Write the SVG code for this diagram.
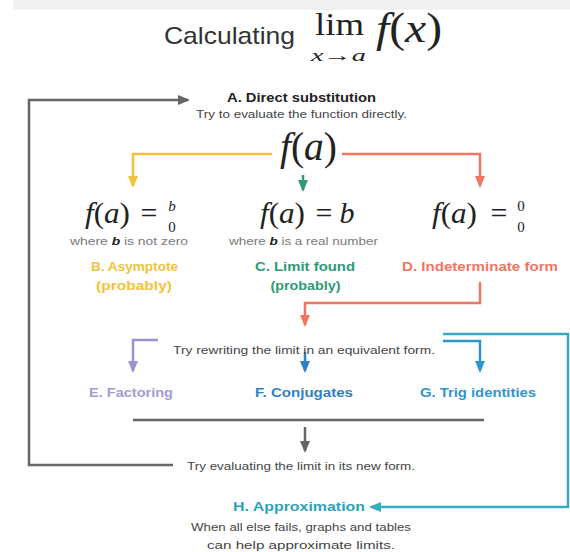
<svg xmlns="http://www.w3.org/2000/svg" width="570" height="552" viewBox="0 0 570 552">
<style>
.sans{font-family:"Liberation Sans","Noto Sans",Arial,sans-serif}
.math{font-family:"Liberation Serif","DejaVu Serif",serif;fill:#222}
.it{font-style:italic}
.lbl{font-family:"Liberation Sans","Noto Sans",Arial,sans-serif;font-weight:bold;font-size:13px;text-anchor:middle}
.note{font-family:"Liberation Sans","Noto Sans",Arial,sans-serif;font-size:10.5px;fill:#444;text-anchor:middle}
.small{font-family:"Liberation Sans","Noto Sans",Arial,sans-serif;font-size:10px;fill:#7a7a7a;text-anchor:middle}
.ln{fill:none;stroke-width:2.5;stroke-linejoin:miter}
</style>
<defs>
<marker id="mGray" viewBox="0 0 12 10" markerWidth="14" markerHeight="10" refX="10" refY="5" orient="auto" markerUnits="userSpaceOnUse"><path d="M0,0 L12,5 L0,10 z" fill="#666"/></marker>
<marker id="mYel" viewBox="0 0 12 10" markerWidth="14" markerHeight="10" refX="10" refY="5" orient="auto" markerUnits="userSpaceOnUse"><path d="M0,0 L12,5 L0,10 z" fill="#f2c23c"/></marker>
<marker id="mGrn" viewBox="0 0 12 10" markerWidth="14" markerHeight="10" refX="10" refY="5" orient="auto" markerUnits="userSpaceOnUse"><path d="M0,0 L12,5 L0,10 z" fill="#2e9a77"/></marker>
<marker id="mRed" viewBox="0 0 12 10" markerWidth="14" markerHeight="10" refX="10" refY="5" orient="auto" markerUnits="userSpaceOnUse"><path d="M0,0 L12,5 L0,10 z" fill="#f07563"/></marker>
<marker id="mPur" viewBox="0 0 12 10" markerWidth="14" markerHeight="10" refX="10" refY="5" orient="auto" markerUnits="userSpaceOnUse"><path d="M0,0 L12,5 L0,10 z" fill="#9d93cf"/></marker>
<marker id="mBlu" viewBox="0 0 12 10" markerWidth="14" markerHeight="10" refX="10" refY="5" orient="auto" markerUnits="userSpaceOnUse"><path d="M0,0 L12,5 L0,10 z" fill="#2f7fc4"/></marker>
<marker id="mBlu2" viewBox="0 0 12 10" markerWidth="14" markerHeight="10" refX="10" refY="5" orient="auto" markerUnits="userSpaceOnUse"><path d="M0,0 L12,5 L0,10 z" fill="#2f95cf"/></marker>
<marker id="mTeal" viewBox="0 0 12 10" markerWidth="14" markerHeight="10" refX="10" refY="5" orient="auto" markerUnits="userSpaceOnUse"><path d="M0,0 L12,5 L0,10 z" fill="#36aac2"/></marker>
</defs>
<rect width="570" height="552" fill="#ffffff"/>
<rect x="13" y="0" width="557" height="10" fill="#f1f1f1"/>

<g id="title">
<text class="sans" x="229.5" y="44" font-size="24" fill="#333" text-anchor="middle" textLength="131" lengthAdjust="spacingAndGlyphs">Calculating</text>
<text class="math" x="315" y="35" font-size="32" textLength="49" lengthAdjust="spacingAndGlyphs">lim</text>
<text class="math" x="311" y="61" font-size="17" textLength="55" lengthAdjust="spacingAndGlyphs"><tspan class="it">x</tspan>→<tspan class="it">a</tspan></text>
<text class="math" x="376" y="42" font-size="42" textLength="66" lengthAdjust="spacingAndGlyphs"><tspan class="it">f</tspan>(<tspan class="it">x</tspan>)</text>
</g>

<g id="connectors">
<path class="ln" d="M173,465 H29 V100 H188" stroke="#666" stroke-width="2" marker-end="url(#mGray)"/>
<path class="ln" d="M272,154 H133 V186" stroke="#f2c23c" marker-end="url(#mYel)"/>
<path class="ln" d="M342,154 H480 V186" stroke="#f07563" marker-end="url(#mRed)"/>
<path class="ln" d="M303,175 V190" stroke="#2e9a77" marker-end="url(#mGrn)"/>
<path class="ln" d="M480,282 V303 H305 V325" stroke="#f07563" marker-end="url(#mRed)"/>
<path class="ln" d="M158,340 H133 V371" stroke="#9d93cf" marker-end="url(#mPur)"/>
<path class="ln" d="M305,352 V371" stroke="#2f7fc4" marker-end="url(#mBlu)"/>
<path class="ln" d="M443,341 H480 V371" stroke="#2f95cf" marker-end="url(#mBlu2)"/>
<path class="ln" d="M443,334 H568 V507 H371" stroke="#36aac2" stroke-width="2" marker-end="url(#mTeal)"/>
<path class="ln" d="M133,420 H484" stroke="#666" stroke-width="2"/>
<path class="ln" d="M305,427 V451" stroke="#666" stroke-width="2" marker-end="url(#mGray)"/>
</g>

<g id="nodeA">
<text class="lbl" x="301.5" y="102" fill="#222" textLength="149" lengthAdjust="spacingAndGlyphs">A. Direct substitution</text>
<text class="note" x="301.5" y="118" textLength="211" lengthAdjust="spacingAndGlyphs">Try to evaluate the function directly.</text>
</g>

<g id="fa">
<text class="math" x="280" y="160" font-size="40" textLength="57" lengthAdjust="spacingAndGlyphs"><tspan class="it">f</tspan>(<tspan class="it">a</tspan>)</text>
</g>

<g id="caseB">
<text class="math" x="85" y="223" font-size="30" textLength="45" lengthAdjust="spacingAndGlyphs"><tspan class="it">f</tspan>(<tspan class="it">a</tspan>)</text>
<text class="math" x="149" y="223" font-size="30" text-anchor="middle">=</text>
<text class="math it" x="172" y="211" font-size="15" text-anchor="middle">b</text>
<text class="math" x="172" y="232" font-size="15" text-anchor="middle">0</text>
<text class="small" x="129" y="245" textLength="118" lengthAdjust="spacingAndGlyphs">where <tspan font-weight="bold" font-style="italic" fill="#222">b</tspan> is not zero</text>
<text class="lbl" x="134.5" y="271" fill="#f2c23c" textLength="87" lengthAdjust="spacingAndGlyphs">B. Asymptote</text>
<text class="lbl" x="134" y="290" fill="#f2c23c" textLength="76" lengthAdjust="spacingAndGlyphs">(probably)</text>
</g>

<g id="caseC">
<text class="math" x="260" y="223" font-size="30" textLength="45" lengthAdjust="spacingAndGlyphs"><tspan class="it">f</tspan>(<tspan class="it">a</tspan>)</text>
<text class="math" x="324" y="223" font-size="30" text-anchor="middle">=</text>
<text class="math it" x="347" y="223" font-size="30" text-anchor="middle">b</text>
<text class="small" x="303.5" y="245" textLength="149" lengthAdjust="spacingAndGlyphs">where <tspan font-weight="bold" font-style="italic" fill="#222">b</tspan> is a real number</text>
<text class="lbl" x="305" y="271" fill="#2e9a77" textLength="100" lengthAdjust="spacingAndGlyphs">C. Limit found</text>
<text class="lbl" x="305.5" y="290" fill="#2e9a77" textLength="70" lengthAdjust="spacingAndGlyphs">(probably)</text>
</g>

<g id="caseD">
<text class="math" x="432" y="223" font-size="30" textLength="45" lengthAdjust="spacingAndGlyphs"><tspan class="it">f</tspan>(<tspan class="it">a</tspan>)</text>
<text class="math" x="499" y="223" font-size="30" text-anchor="middle">=</text>
<text class="math" x="521" y="211" font-size="15" text-anchor="middle">0</text>
<text class="math" x="521" y="232" font-size="15" text-anchor="middle">0</text>
<text class="lbl" x="480" y="271" fill="#f07563" textLength="156" lengthAdjust="spacingAndGlyphs">D. Indeterminate form</text>
</g>

<g id="rewrite">
<text class="note" x="304" y="354" font-size="11" fill="#333" textLength="262" lengthAdjust="spacingAndGlyphs">Try rewriting the limit in an equivalent form.</text>
</g>

<g id="nodeE"><text class="lbl" x="131" y="397" fill="#a49ad6" textLength="84" lengthAdjust="spacingAndGlyphs">E. Factoring</text></g>
<g id="nodeF"><text class="lbl" x="304" y="397" fill="#2f7fc4" textLength="98" lengthAdjust="spacingAndGlyphs">F. Conjugates</text></g>
<g id="nodeG"><text class="lbl" x="478" y="397" fill="#2f95cf" textLength="116" lengthAdjust="spacingAndGlyphs">G. Trig identities</text></g>

<g id="evaluate">
<text class="note" x="301" y="470" font-size="11" fill="#333" textLength="228" lengthAdjust="spacingAndGlyphs">Try evaluating the limit in its new form.</text>
</g>

<g id="nodeH">
<text class="lbl" x="299" y="511" fill="#2ba3b8" textLength="132" lengthAdjust="spacingAndGlyphs">H. Approximation</text>
<text class="note" x="301" y="531" fill="#666" textLength="220" lengthAdjust="spacingAndGlyphs">When all else fails, graphs and tables</text>
<text class="note" x="301" y="549" fill="#666" textLength="188" lengthAdjust="spacingAndGlyphs">can help approximate limits.</text>
</g>
</svg>
